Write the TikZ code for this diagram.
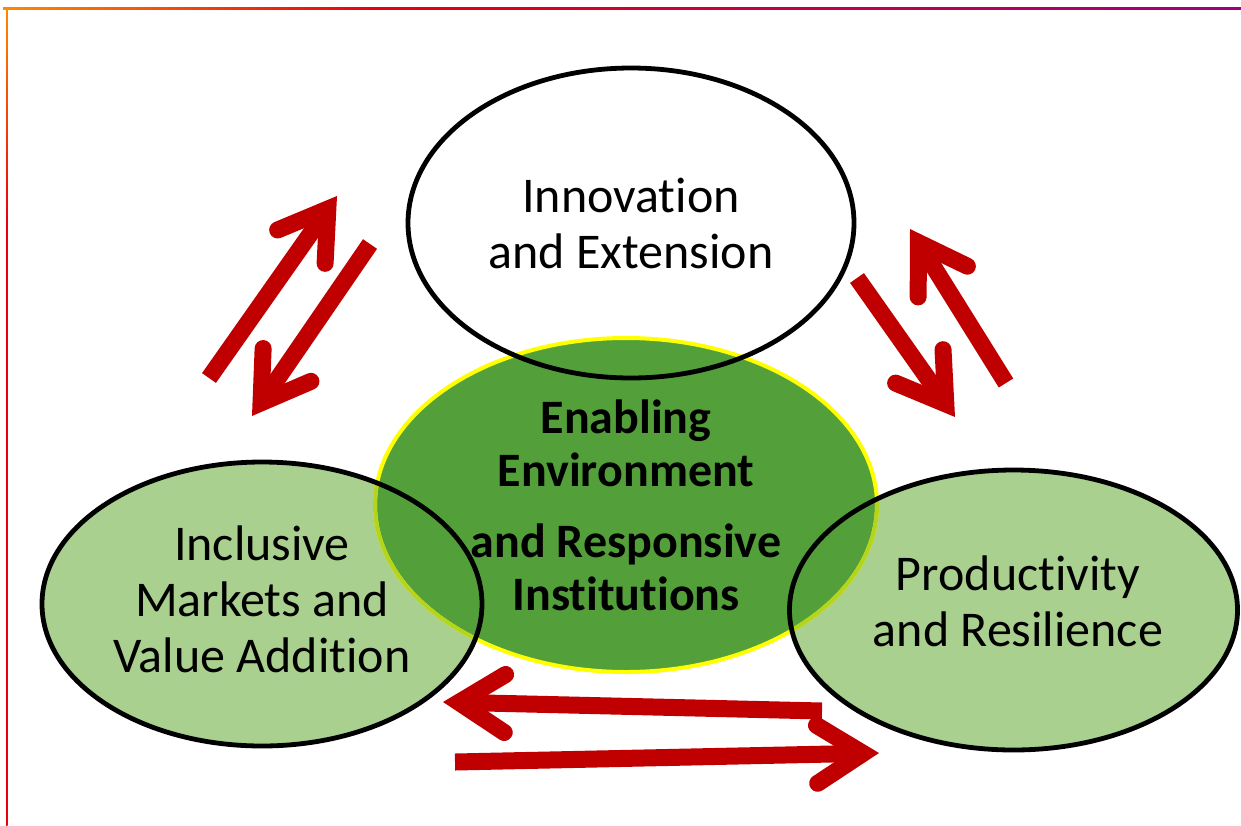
\documentclass[tikz,border=0pt]{standalone}
\usepackage{fontspec}
\setmainfont{Carlito}[Ligatures=NoCommon]
\usetikzlibrary{arrows.meta,shapes.geometric}

\definecolor{hubgreen}{HTML}{53A03B}
\definecolor{leafgreen}{HTML}{A9D08E}
\definecolor{flowred}{HTML}{C00000}
\definecolor{rimyellow}{HTML}{FFFF00}
\definecolor{rimmix}{HTML}{B4D41E}
\definecolor{frameorange}{HTML}{FF8A00}
\definecolor{framered}{HTML}{E8000E}
\definecolor{framepurple}{HTML}{A0007E}

% frame strokes along the top and left edges
\pgfdeclarehorizontalshading{framebar}{100bp}{%
  color(0bp)=(frameorange); color(25bp)=(frameorange);
  color(40bp)=(framered); color(75bp)=(framepurple); color(100bp)=(framepurple)}
\pgfdeclareverticalshading{sidebar}{100bp}{%
  color(0bp)=(framered); color(62bp)=(framered);
  color(75bp)=(frameorange); color(100bp)=(frameorange)}

\pgfdeclarelayer{back}
\pgfdeclarelayer{mid}
\pgfsetlayers{back,mid,main}

\tikzset{
  bubble/.style={ellipse, draw=black, line width=4.8pt, inner sep=0pt,
    align=center, font=\fontsize{50}{56}\selectfont},
  hubstyle/.style={ellipse, draw=rimyellow, fill=hubgreen, line width=4pt,
    inner sep=0pt, align=center, font=\fontsize{48}{53}\selectfont\bfseries},
  flow/.style={draw=flowred, line width=17pt, line cap=butt,
    -{Straight Barb[length=46pt, width=58pt, line cap=round, line join=miter]}}
}

\begin{document}
\begin{tikzpicture}[x=1pt, y=-1pt]
  \useasboundingbox (0,0) rectangle (1241,825);

  % pillar ellipses
  \node[bubble, minimum width=446pt, minimum height=310pt] (inno) at (631,223)
    {Innovation\\and Extension};
  \node[bubble, minimum width=440pt, minimum height=284pt, text depth=10pt]
    (markets) at (262,604) {Inclusive\\Markets and\\Value Addition};
  \node[bubble, minimum width=448pt, minimum height=280pt, text depth=18pt]
    (prod) at (1013.5,610)
    {\hspace*{9pt}Productivity\\\hspace*{9pt}and Resilience};

  \begin{pgfonlayer}{back}
    \fill[white] (0,0) rectangle (1241,825);
    \shade[shading=framebar] (3,7.6) rectangle (1241,9.4);
    \shade[shading=sidebar] (6.2,8) rectangle (7.6,825);
    \fill[leafgreen] (markets.center) ellipse [x radius=220pt, y radius=142pt];
    \fill[leafgreen] (prod.center) ellipse [x radius=224pt, y radius=140pt];
  \end{pgfonlayer}

  % central hub
  \begin{pgfonlayer}{mid}
    \node[hubstyle, minimum width=502pt, minimum height=334pt] (hub) at (626,505)
      {Enabling\\Environment\\[18pt]and Responsive\\Institutions};
    \begin{scope}
      \clip (markets.center) ellipse [x radius=220pt, y radius=142pt];
      \draw[rimmix, line width=4pt] (hub.center) ellipse [x radius=251pt, y radius=167pt];
    \end{scope}
    \begin{scope}
      \clip (prod.center) ellipse [x radius=224pt, y radius=140pt];
      \draw[rimmix, line width=4pt] (hub.center) ellipse [x radius=251pt, y radius=167pt];
    \end{scope}
  \end{pgfonlayer}

  % two-way flows between the pillars
  \coordinate (mi-tail) at (209,378);   \coordinate (mi-tip) at (337,196);
  \coordinate (im-tail) at (370,244);   \coordinate (im-tip) at (252,416);
  \coordinate (ip-tail) at (857,278);   \coordinate (ip-tip) at (955,417);
  \coordinate (pi-tail) at (1006,383);  \coordinate (pi-tip) at (910,229);
  \coordinate (pm-tail) at (822,711);   \coordinate (pm-tip) at (443,702);
  \coordinate (mp-tail) at (455,762);   \coordinate (mp-tip) at (879,753);

  \draw[flow] (mi-tail) -- (mi-tip);
  \draw[flow] (im-tail) -- (im-tip);
  \draw[flow] (ip-tail) -- (ip-tip);
  \draw[flow] (pi-tail) -- (pi-tip);
  \draw[flow] (pm-tail) -- (pm-tip);
  \draw[flow] (mp-tail) -- (mp-tip);
\end{tikzpicture}
\end{document}
